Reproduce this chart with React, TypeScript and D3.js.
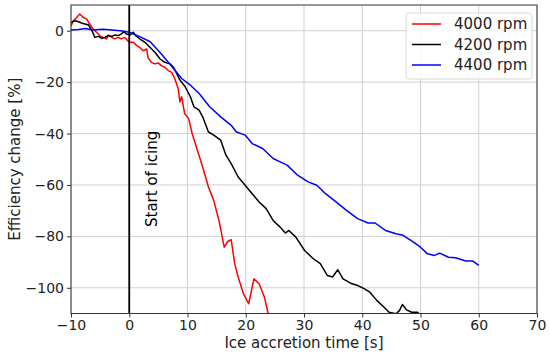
import React, { useEffect, useRef } from 'react';
import * as d3 from 'd3';

// 4000 rpm
const t4000 = [-10, -9.6, -9, -8.5, -7.9, -7.3, -6.8, -6.2, -5.6, -5.1, -4.5, -3.9, -3.6, -3, -2.5, -1.9, -1.4, -0.8, 0, 0.7, 1.3, 1.8, 2.4, 3, 3.2, 3.8, 4.4, 5, 5.5, 6.1, 6.7, 7.3, 7.8, 8.4, 8.7, 9, 9.5, 10.2, 10.8, 11.7, 12.6, 13.6, 14.5, 15.4, 16.3, 16.9, 17.5, 18.1, 18.7, 19.6, 20.5, 21.4, 22.3, 23.2, 23.8, 24.1];
const v4000 = [1.9, 3.9, 5.2, 6.5, 5.2, 4.5, 2.6, 0.6, -0.6, -1.9, -2.6, -3.2, -1.7, -2.6, -3.2, -2.6, -3.2, -2.6, -4.5, -4.5, -5.8, -6.5, -7.8, -7.1, -10.4, -12.3, -12.9, -12.6, -13.6, -14.2, -15.5, -16.2, -18.6, -22.5, -27.7, -25.7, -32.2, -34.2, -40, -46.5, -53, -60.8, -66, -73.8, -84.2, -82, -81.3, -90.6, -95.8, -102.3, -106.2, -96.5, -98.4, -103.6, -109.5, -112];

// 4200 rpm
const t4200 = [-10, -9.3, -8.7, -8.2, -7.6, -7, -6.4, -5.9, -5.3, -4.7, -4.2, -3.6, -3, -2.5, -1.9, -1.4, -0.9, -0.5, 0.1, 0.7, 1.1, 1.8, 2.7, 3.6, 4.4, 5.3, 6.1, 7, 7.6, 8.7, 9.6, 10.5, 11.1, 12, 12.6, 13.6, 14.5, 15.7, 16.6, 17.5, 18.7, 19.9, 21.1, 22.3, 23.5, 24.7, 25.9, 26.8, 27.4, 28.6, 30.1, 31.6, 32.8, 34, 34.9, 35.8, 36.7, 38, 39.2, 40.4, 41.3, 42.5, 43.7, 44.6, 45.8, 46.4, 46.9, 47.6, 48.5, 49.5, 50];
const v4200 = [3.2, 3.9, 3.5, 3, 2.6, 2.2, 0, -2.6, -2.2, -3, -2.6, -1.9, -2.2, -1.7, -1.9, -1.3, -0.4, -1.3, -1.7, -0.6, -1.9, -3.2, -4.5, -6.5, -8.4, -11, -12.3, -12.9, -14.2, -19.2, -21.8, -25.7, -29.6, -30.9, -33.5, -39.4, -40.6, -42.6, -48.4, -51.7, -56.9, -60.1, -63.4, -66.6, -69.2, -73.8, -76.4, -78.7, -77.7, -80.3, -85.5, -88.7, -90.6, -95.2, -95.8, -93, -96.5, -98.2, -99.1, -100.4, -101.7, -104.9, -107.5, -109.5, -110.1, -108.8, -106.5, -108.6, -109.5, -109.5, -111];

// 4400 rpm
const t4400 = [-10, -8.7, -7.5, -6.3, -4.5, -3, -1.5, 0, 1.8, 3.6, 5.4, 6.6, 7.8, 9, 10.5, 12, 13.8, 15.7, 17.5, 18.4, 19.9, 21.1, 22.9, 24.7, 25.9, 27.1, 28.9, 30.7, 32.2, 33.7, 35.5, 37.3, 39.2, 41, 42.2, 44, 45.8, 47, 48.8, 50, 51.2, 52.4, 53.3, 54.8, 56, 57.8, 59, 60];
const v4400 = [0.3, 0.5, 0.9, 0.3, 0.6, 0.3, 0, -0.6, -2.3, -4.3, -8.8, -12, -15.3, -18.6, -21.2, -24.4, -29.6, -33.5, -36.8, -39.4, -40.6, -43.9, -45.8, -49.7, -51, -52.3, -56.2, -58.8, -60.1, -63.4, -66.6, -69.9, -73.1, -74.8, -74.8, -77.7, -79, -79.6, -82.2, -84.2, -86.8, -87.4, -86.5, -88.1, -88.3, -89.6, -89.6, -91.3];

const xTicks = [-10, 0, 10, 20, 30, 40, 50, 60, 70];
const yTicks = [-100, -80, -60, -40, -20, 0];
const seriesNames = ['4000 rpm', '4200 rpm', '4400 rpm'];
const seriesColors = ['#ff0000', '#000000', '#0000ff'];

export default function App() {
    const ref = useRef<SVGSVGElement>(null);

    useEffect(() => {
        document.body.style.margin = '0';
        const svg = d3.select(ref.current);
        svg.selectAll('*').remove();

        const left = 71, right = 537, top = 5, bottom = 313.5;
        const font = 'DejaVu Sans';

        const x = d3.scaleLinear().domain([-10, 70]).range([left, right]);
        const y = d3.scaleLinear().domain([-110, 10]).range([bottom, top]);

        svg.append('clipPath').attr('id', 'plot-clip')
            .append('rect')
            .attr('x', left).attr('y', top)
            .attr('width', right - left).attr('height', bottom - top);

        // grid
        svg.append('g').selectAll('line').data(xTicks).enter().append('line')
            .attr('x1', d => x(d)).attr('x2', d => x(d))
            .attr('y1', top).attr('y2', bottom)
            .attr('stroke', '#d0d0d0').attr('stroke-width', 1);
        svg.append('g').selectAll('line').data(yTicks).enter().append('line')
            .attr('x1', left).attr('x2', right)
            .attr('y1', d => y(d)).attr('y2', d => y(d))
            .attr('stroke', '#d0d0d0').attr('stroke-width', 1);

        // series
        const all = [[t4000, v4000], [t4200, v4200], [t4400, v4400]];
        const plot = svg.append('g').attr('clip-path', 'url(#plot-clip)');
        all.forEach(([ts, vs], i) => {
            const pts = ts.map((t, j) => [x(t), y(vs[j])] as [number, number]);
            plot.append('path')
                .attr('d', d3.line()(pts))
                .attr('fill', 'none')
                .attr('stroke', seriesColors[i])
                .attr('stroke-width', 1.5)
                .attr('stroke-linejoin', 'round');
        });

        // start of icing marker
        svg.append('line')
            .attr('x1', x(0)).attr('x2', x(0))
            .attr('y1', top).attr('y2', bottom)
            .attr('stroke', '#000').attr('stroke-width', 1.8);
        svg.append('text')
            .attr('transform', 'translate(157,227) rotate(-90)')
            .attr('font-family', font).attr('font-size', 15)
            .attr('fill', '#000')
            .text('Start of icing');

        // axes
        const xAxis = svg.append('g')
            .attr('transform', 'translate(0,' + bottom + ')')
            .call(d3.axisBottom(x).tickValues(xTicks).tickSize(4).tickPadding(3));
        const yAxis = svg.append('g')
            .attr('transform', 'translate(' + left + ',0)')
            .call(d3.axisLeft(y).tickValues(yTicks).tickSize(4).tickPadding(3));
        [xAxis, yAxis].forEach(a => {
            a.select('.domain').remove();
            a.selectAll('line').attr('stroke', '#333');
            a.selectAll('text').attr('font-family', font).attr('font-size', 14).attr('fill', '#222');
        });

        // frame
        svg.append('rect')
            .attr('x', left).attr('y', top)
            .attr('width', right - left).attr('height', bottom - top)
            .attr('fill', 'none').attr('stroke', '#333').attr('stroke-width', 1);

        // axis labels
        svg.append('text')
            .attr('x', (left + right) / 2).attr('y', 348)
            .attr('text-anchor', 'middle')
            .attr('font-family', font).attr('font-size', 15).attr('fill', '#222')
            .text('Ice accretion time [s]');
        svg.append('text')
            .attr('transform', 'translate(20,' + (top + bottom) / 2 + ') rotate(-90)')
            .attr('text-anchor', 'middle')
            .attr('font-family', font).attr('font-size', 15).attr('fill', '#222')
            .text('Efficiency change [%]');

        // legend
        const legend = svg.append('g');
        legend.append('rect')
            .attr('x', 406).attr('y', 13).attr('width', 126).attr('height', 66).attr('rx', 3)
            .attr('fill', '#fff').attr('fill-opacity', 0.8)
            .attr('stroke', '#d8d8d8');
        seriesNames.forEach((name, i) => {
            const ly = 24 + i * 20.5;
            legend.append('line')
                .attr('x1', 412).attr('x2', 441).attr('y1', ly).attr('y2', ly)
                .attr('stroke', seriesColors[i]).attr('stroke-width', 1.5);
            legend.append('text')
                .attr('x', 454).attr('y', ly).attr('dy', '0.36em')
                .attr('font-family', font).attr('font-size', 15).attr('fill', '#222')
                .text(name);
        });
    }, []);

    return (
        <svg ref={ref} width={550} height={354} style={{ display: 'block' }}></svg>
    );
}
